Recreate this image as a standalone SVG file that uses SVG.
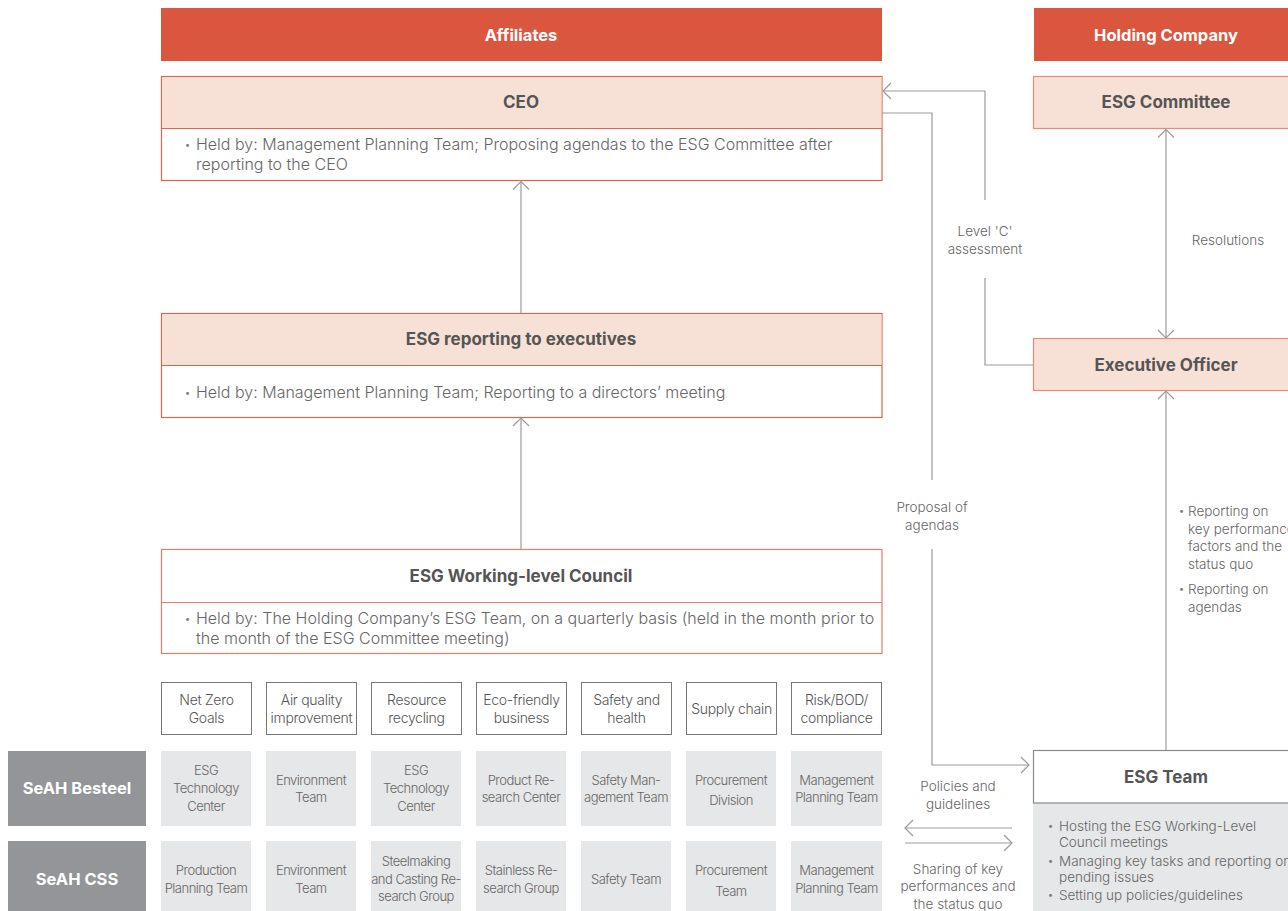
<svg xmlns="http://www.w3.org/2000/svg" width="1288" height="911" viewBox="0 0 1288 911">
<defs>
<style>
text{font-family:Inter,"Noto Sans","Liberation Sans",sans-serif}
.hdr{fill:#db563f}
.hdrt{fill:#fff;font-weight:700;font-size:16.5px;text-anchor:middle}
.peach{fill:#f7e1d6;stroke:#e98b76;stroke-width:1.2}
.wbox{fill:#fff;stroke:#e0634b;stroke-width:1.2}
.title{fill:#555;font-weight:700;font-size:17px;text-anchor:middle}
.body{fill:#666;font-size:16px;font-weight:300}
.bul{fill:#777;font-size:9px}
.lbl{fill:#666;font-size:13.5px;font-weight:300;text-anchor:middle}
.lbll{fill:#666;font-size:13.5px;font-weight:300}
.cat{fill:#fff;stroke:#777;stroke-width:1}
.catt{fill:#555;font-size:14px;font-weight:300;text-anchor:middle;letter-spacing:-0.3px}
.cell{fill:#e6e7e8}
.cellt{fill:#666;font-size:13px;font-weight:300;text-anchor:middle;letter-spacing:-0.5px}
.rowl{fill:#939598}
.rowt{fill:#fff;font-weight:700;font-size:16.5px;text-anchor:middle}
.conn{fill:none;stroke:#9b9b9b;stroke-width:1.2}
</style>
<marker id="arr" markerUnits="userSpaceOnUse" viewBox="-10 -10 12 20" refX="0" refY="0" markerWidth="12" markerHeight="20" orient="auto-start-reverse">
<path d="M-8,-8 L0,0 L-8,8" fill="none" stroke="#9b9b9b" stroke-width="1.2"/>
</marker>
</defs>

<g id="hdr-affiliates">
<rect class="hdr" x="161" y="8" width="721" height="53"/>
<text class="hdrt" x="521" y="41">Affiliates</text>
</g>
<g id="hdr-holding">
<rect class="hdr" x="1034" y="8" width="254" height="53"/>
<text class="hdrt" x="1166" y="41">Holding Company</text>
</g>

<g id="ceo">
<rect class="wbox" x="161.5" y="76.5" width="720.5" height="104"/>
<rect x="162" y="77" width="719.5" height="51" fill="#f7e1d6"/>
<line x1="161.5" y1="128.5" x2="882" y2="128.5" stroke="#e0634b" stroke-width="1.2"/>
<text class="title" x="521" y="108">CEO</text>
<text class="bul" x="185" y="148">•</text>
<text class="body" x="196" y="150">Held by: Management Planning Team; Proposing agendas to the ESG Committee after</text>
<text class="body" x="196" y="170">reporting to the CEO</text>
</g>

<g id="esg-reporting">
<rect class="wbox" x="161.5" y="313.5" width="720.5" height="104"/>
<rect x="162" y="314" width="719.5" height="51" fill="#f7e1d6"/>
<line x1="161.5" y1="365.5" x2="882" y2="365.5" stroke="#e0634b" stroke-width="1.2"/>
<text class="title" x="521" y="345">ESG reporting to executives</text>
<text class="bul" x="185" y="396">•</text>
<text class="body" x="196" y="398">Held by: Management Planning Team; Reporting to a directors’ meeting</text>
</g>

<g id="esg-council">
<rect x="161.5" y="549.5" width="720.5" height="104" fill="#fff" stroke="#ec7a66" stroke-width="1.2"/>
<line x1="161.5" y1="602.5" x2="882" y2="602.5" stroke="#ec7a66" stroke-width="1.2"/>
<text class="title" x="521" y="582">ESG Working-level Council</text>
<text class="bul" x="185" y="622">•</text>
<text class="body" x="196" y="624">Held by: The Holding Company’s ESG Team, on a quarterly basis (held in the month prior to</text>
<text class="body" x="196" y="644">the month of the ESG Committee meeting)</text>
</g>

<g id="categories">
<g id="cat-netzero"><rect class="cat" x="161.5" y="682.5" width="90" height="52"/><text class="catt" x="206.5" y="705">Net Zero</text><text class="catt" x="206.5" y="723">Goals</text></g>
<g id="cat-air"><rect class="cat" x="266.5" y="682.5" width="90" height="52"/><text class="catt" x="311.5" y="705">Air quality</text><text class="catt" x="311.5" y="723">improvement</text></g>
<g id="cat-resource"><rect class="cat" x="371.5" y="682.5" width="90" height="52"/><text class="catt" x="416.5" y="705">Resource</text><text class="catt" x="416.5" y="723">recycling</text></g>
<g id="cat-eco"><rect class="cat" x="476.5" y="682.5" width="90" height="52"/><text class="catt" x="521.5" y="705">Eco-friendly</text><text class="catt" x="521.5" y="723">business</text></g>
<g id="cat-safety"><rect class="cat" x="581.5" y="682.5" width="90" height="52"/><text class="catt" x="626.5" y="705">Safety and</text><text class="catt" x="626.5" y="723">health</text></g>
<g id="cat-supply"><rect class="cat" x="686.5" y="682.5" width="90" height="52"/><text class="catt" x="731.5" y="714">Supply chain</text></g>
<g id="cat-risk"><rect class="cat" x="791.5" y="682.5" width="90" height="52"/><text class="catt" x="836.5" y="705">Risk/BOD/</text><text class="catt" x="836.5" y="723">compliance</text></g>
</g>

<g id="row-besteel">
<rect class="rowl" x="8" y="751" width="138" height="75"/>
<text class="rowt" x="77" y="794">SeAH Besteel</text>
<rect class="cell" x="161" y="751" width="90" height="75"/><text class="cellt" x="206" y="775">ESG</text><text class="cellt" x="206" y="793">Technology</text><text class="cellt" x="206" y="811">Center</text>
<rect class="cell" x="266" y="751" width="90" height="75"/><text class="cellt" x="311" y="785">Environment</text><text class="cellt" x="311" y="802">Team</text>
<rect class="cell" x="371" y="751" width="90" height="75"/><text class="cellt" x="416" y="775">ESG</text><text class="cellt" x="416" y="793">Technology</text><text class="cellt" x="416" y="811">Center</text>
<rect class="cell" x="476" y="751" width="90" height="75"/><text class="cellt" x="521" y="785">Product Re-</text><text class="cellt" x="521" y="802">search Center</text>
<rect class="cell" x="581" y="751" width="90" height="75"/><text class="cellt" x="626" y="785">Safety Man-</text><text class="cellt" x="626" y="802">agement Team</text>
<rect class="cell" x="686" y="751" width="90" height="75"/><text class="cellt" x="731" y="785">Procurement</text><text class="cellt" x="731" y="805">Division</text>
<rect class="cell" x="791" y="751" width="91" height="75"/><text class="cellt" x="836.5" y="785">Management</text><text class="cellt" x="836.5" y="802">Planning Team</text>
</g>

<g id="row-css">
<rect class="rowl" x="8" y="841" width="138" height="70"/>
<text class="rowt" x="77" y="885">SeAH CSS</text>
<rect class="cell" x="161" y="841" width="90" height="70"/><text class="cellt" x="206" y="875">Production</text><text class="cellt" x="206" y="893">Planning Team</text>
<rect class="cell" x="266" y="841" width="90" height="70"/><text class="cellt" x="311" y="875">Environment</text><text class="cellt" x="311" y="893">Team</text>
<rect class="cell" x="371" y="841" width="90" height="70"/><text class="cellt" x="416" y="866">Steelmaking</text><text class="cellt" x="416" y="884">and Casting Re-</text><text class="cellt" x="416" y="901">search Group</text>
<rect class="cell" x="476" y="841" width="90" height="70"/><text class="cellt" x="521" y="875">Stainless Re-</text><text class="cellt" x="521" y="893">search Group</text>
<rect class="cell" x="581" y="841" width="90" height="70"/><text class="cellt" x="626" y="884">Safety Team</text>
<rect class="cell" x="686" y="841" width="90" height="70"/><text class="cellt" x="731" y="875">Procurement</text><text class="cellt" x="731" y="896">Team</text>
<rect class="cell" x="791" y="841" width="91" height="70"/><text class="cellt" x="836.5" y="875">Management</text><text class="cellt" x="836.5" y="893">Planning Team</text>
</g>

<g id="esg-committee">
<rect class="peach" x="1033.5" y="76.5" width="260" height="52"/>
<text class="title" x="1166" y="108">ESG Committee</text>
</g>

<g id="executive-officer">
<rect class="peach" x="1033.5" y="338.5" width="260" height="52"/>
<text class="title" x="1166" y="371">Executive Officer</text>
</g>

<g id="esg-team">
<rect x="1033" y="803" width="260" height="108" fill="#e6e7e8"/>
<rect x="1033.5" y="750.5" width="260" height="52.5" fill="#fff" stroke="#8a8a8a" stroke-width="1.2"/>
<text class="title" x="1166" y="783">ESG Team</text>
<text class="bul" x="1048" y="829">•</text>
<text class="lbll" x="1059" y="831">Hosting the ESG Working-Level</text>
<text class="lbll" x="1059" y="847">Council meetings</text>
<text class="bul" x="1048" y="864">•</text>
<text class="lbll" x="1059" y="866">Managing key tasks and reporting on</text>
<text class="lbll" x="1059" y="882">pending issues</text>
<text class="bul" x="1048" y="898">•</text>
<text class="lbll" x="1059" y="900">Setting up policies/guidelines</text>
</g>

<g id="connectors">
<line class="conn" x1="521" y1="313" x2="521" y2="181.5" marker-end="url(#arr)"/>
<line class="conn" x1="521" y1="549" x2="521" y2="418" marker-end="url(#arr)"/>
<path class="conn" d="M1033,365 H985 V278"/>
<path class="conn" d="M985,200 V91 H883" marker-end="url(#arr)"/>
<path class="conn" d="M882,113 H932 V480"/>
<path class="conn" d="M932,549 V765 H1029" marker-end="url(#arr)"/>
<line class="conn" x1="1166" y1="129.5" x2="1166" y2="338" marker-start="url(#arr)" marker-end="url(#arr)"/>
<line class="conn" x1="1166" y1="750" x2="1166" y2="391" marker-end="url(#arr)"/>
<line class="conn" x1="1012" y1="828" x2="905" y2="828" marker-end="url(#arr)"/>
<line class="conn" x1="905" y1="843" x2="1012" y2="843" marker-end="url(#arr)"/>
</g>

<g id="labels">
<text class="lbl" x="985" y="236">Level 'C'</text>
<text class="lbl" x="985" y="254">assessment</text>
<text class="lbl" x="1228" y="245">Resolutions</text>
<text class="lbl" x="932" y="512">Proposal of</text>
<text class="lbl" x="932" y="530">agendas</text>
<text class="bul" x="1179" y="514">•</text>
<text class="lbll" x="1188" y="516">Reporting on</text>
<text class="lbll" x="1188" y="534">key performance</text>
<text class="lbll" x="1188" y="551">factors and the</text>
<text class="lbll" x="1188" y="569">status quo</text>
<text class="bul" x="1179" y="592">•</text>
<text class="lbll" x="1188" y="594">Reporting on</text>
<text class="lbll" x="1188" y="612">agendas</text>
<text class="lbl" x="958" y="791">Policies and</text>
<text class="lbl" x="958" y="809">guidelines</text>
<text class="lbl" x="958" y="874">Sharing of key</text>
<text class="lbl" x="958" y="891">performances and</text>
<text class="lbl" x="958" y="909">the status quo</text>
</g>
</svg>
